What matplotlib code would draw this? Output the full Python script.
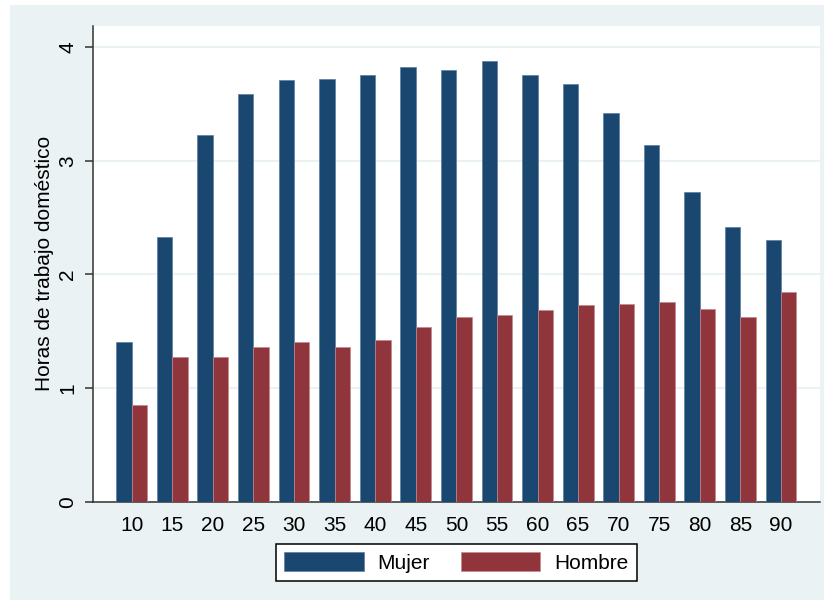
import matplotlib
matplotlib.use("Agg")
import matplotlib.pyplot as plt
from matplotlib.patches import Rectangle, Patch
import numpy as np

plt.rcParams['font.family'] = ['Liberation Sans', 'DejaVu Sans']

edades = ["10", "15", "20", "25", "30", "35", "40", "45", "50", "55",
          "60", "65", "70", "75", "80", "85", "90"]
mujer = [1.41, 2.33, 3.23, 3.59, 3.71, 3.72, 3.76, 3.83, 3.80, 3.88,
         3.76, 3.68, 3.42, 3.14, 2.73, 2.42, 2.30]
hombre = [0.85, 1.27, 1.27, 1.36, 1.41, 1.36, 1.42, 1.54, 1.63, 1.64,
          1.69, 1.73, 1.74, 1.76, 1.70, 1.63, 1.85]
yticks = [0, 1, 2, 3, 4]
ylabel = "Horas de trabajo doméstico"
legend_labels = ["Mujer", "Hombre"]

FS = 15
W, H = 827, 604
fig = plt.figure(figsize=(W / 100, H / 100), dpi=100)
fig.patch.set_facecolor('white')
bg = '#EAF2F3'
fig.add_artist(Rectangle((10 / W, 1 - 600 / H), (824 - 10) / W, (600 - 5) / H,
                         transform=fig.transFigure, facecolor=bg, edgecolor='none', zorder=0))

left, right = 92.7 / W, 820 / W
bottom, top = 1 - 501.7 / H, 1 - 26 / H
ax = fig.add_axes([left, bottom, right - left, top - bottom])
ax.set_facecolor('white')

c_m = '#1A476F'
c_h = '#90353B'
x = np.arange(len(edades))
bw = 0.38
ax.bar(x - bw / 2, mujer, width=bw, color=c_m, edgecolor='#5a7d9e', linewidth=0.5, zorder=3)
ax.bar(x + bw / 2, hombre, width=bw, color=c_h, edgecolor='#c08a8e', linewidth=0.5, zorder=3)

ax.set_xlim(-0.961, len(edades) - 1 + 0.961)
ax.set_ylim(0, 4.187)
ax.set_yticks(yticks)
ax.set_yticklabels([str(t) for t in yticks], rotation=90, va='center')
ax.set_xticks(x)
ax.set_xticklabels(edades)
ax.tick_params(axis='x', length=0, pad=10, labelsize=FS)
ax.tick_params(axis='y', length=6, width=1.1, pad=5, labelsize=FS, color='#333333')
ax.yaxis.grid(True, color=bg, linewidth=1.5, zorder=1)
ax.set_axisbelow(True)
for s in ['top', 'right']:
    ax.spines[s].set_visible(False)
for s in ['left', 'bottom']:
    ax.spines[s].set_color('#333333')
    ax.spines[s].set_linewidth(1.1)
ax.set_ylabel(ylabel, fontsize=FS, va='center')
ax.yaxis.set_label_coords((45 - 92.7) / (820 - 92.7), 0.5)

handles = [Patch(facecolor=c_m, edgecolor='#5a7d9e', linewidth=0.5),
           Patch(facecolor=c_h, edgecolor='#c08a8e', linewidth=0.5)]
leg = fig.legend(handles, legend_labels, loc='center',
                 bbox_to_anchor=((92.7 + 820) / 2 / W, 1 - 562.5 / H),
                 ncol=2, fontsize=FS, frameon=True, fancybox=False,
                 handlelength=3.8, handleheight=1.04, handletextpad=0.65,
                 columnspacing=1.52, borderpad=0.4, borderaxespad=0)
leg.get_frame().set_edgecolor('black')
leg.get_frame().set_linewidth(1.1)
leg.get_frame().set_facecolor('white')
leg.get_frame().set_alpha(1)

fig.savefig('out.png', dpi=100)
